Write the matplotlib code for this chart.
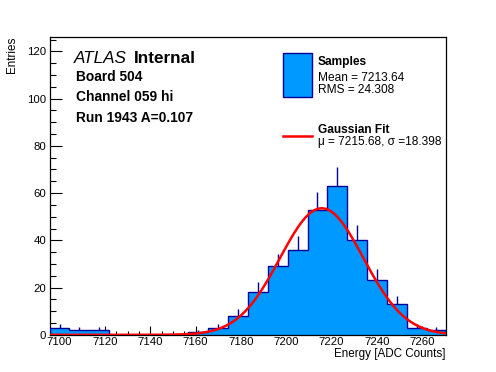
import matplotlib.pyplot as plt
import numpy as np
from matplotlib.ticker import MultipleLocator
from matplotlib.patches import Rectangle
from matplotlib.lines import Line2D

plt.rcParams['font.family'] = ['Liberation Sans', 'DejaVu Sans']

# histogram (20 equal bins)
bin_lo = 7095.6
bin_hi = 7270.7
counts = [3, 2, 2, 0, 0, 0, 0, 1, 3, 8, 18, 29, 36, 53, 63, 40, 23, 13, 3, 2]

# gaussian fit parameters
fit_mu = 7215.68
fit_sigma = 18.398
fit_amp = 53.6

x_title = "Energy [ADC Counts]"
y_title = "Entries"
info_lines = ["Board 504", "Channel 059 hi", "Run 1943 A=0.107"]
legend_hist = ["Samples", "Mean = 7213.64", "RMS = 24.308"]
legend_fit = ["Gaussian Fit", "\u03bc = 7215.68, \u03c3 =18.398"]

fill_col = '#0099ff'
edge_col = '#000099'

W, H = 496, 372
def fx(px):
    return px / W
def fy(py):
    return 1 - py / H

fig = plt.figure(figsize=(4.96, 3.72), dpi=100)
ax = fig.add_axes([0.1, 0.1, 0.8, 0.8])

counts = np.array(counts, dtype=float)
edges = np.linspace(bin_lo, bin_hi, len(counts) + 1)
centers = 0.5 * (edges[:-1] + edges[1:])

ax.stairs(counts, edges, fill=True, color=fill_col, zorder=2)
ax.stairs(counts, edges, fill=False, color=edge_col, lw=1.0, zorder=3)
nz = counts > 0
ax.vlines(centers[nz], counts[nz], counts[nz] + np.sqrt(counts[nz]),
          color=edge_col, lw=1.0, zorder=3)

xf = np.linspace(bin_lo, bin_hi, 100)
yf = fit_amp * np.exp(-0.5 * ((xf - fit_mu) / fit_sigma) ** 2)
ax.plot(xf, yf, color='red', lw=1.8, zorder=4)

ax.set_xlim(bin_lo, bin_hi)
ax.set_ylim(0, 126)

ax.xaxis.set_major_locator(MultipleLocator(20))
ax.xaxis.set_minor_locator(MultipleLocator(5))
ax.yaxis.set_major_locator(MultipleLocator(20))
ax.yaxis.set_minor_locator(MultipleLocator(5))
ax.tick_params(axis='x', which='major', direction='in', length=6.5, width=0.8,
               labelsize=8.2, pad=1.5, top=False)
ax.tick_params(axis='x', which='minor', direction='in', length=3.2, width=0.8, top=False)
ax.tick_params(axis='y', which='major', direction='in', length=8.6, width=0.8,
               labelsize=8.2, pad=2.5, right=False)
ax.tick_params(axis='y', which='minor', direction='in', length=4.3, width=0.8, right=False)
for s in ax.spines.values():
    s.set_linewidth(0.9)

fig.text(fx(446), fy(357), x_title, ha='right', va='baseline', fontsize=8.4)
fig.text(fx(12.5), fy(37), y_title, ha='center', va='top', rotation=90, fontsize=8.4)

# ATLAS label
fig.text(fx(74), fy(63), "ATLAS", style='italic', fontsize=12.3, va='baseline')
fig.text(fx(134), fy(63), "Internal", weight='bold', fontsize=12.3, va='baseline')
for i, line in enumerate(info_lines):
    fig.text(fx(75.5), fy(80.7 + 20.5 * i), line, weight='bold', fontsize=9.9,
             va='baseline')

# legend
fig.add_artist(Rectangle((fx(283.3), fy(96.7)), fx(311.7) - fx(283.3),
                         fy(53.3) - fy(96.7), transform=fig.transFigure,
                         facecolor=fill_col, edgecolor=edge_col, lw=1.0))
fig.add_artist(Line2D([fx(283), fx(312)], [fy(136), fy(136)],
                      transform=fig.transFigure, color='red', lw=1.8))
fig.text(fx(317.7), fy(65), legend_hist[0], weight='bold', fontsize=8.6, va='baseline')
fig.text(fx(317.7), fy(80.7), legend_hist[1], fontsize=8.6, va='baseline')
fig.text(fx(317.7), fy(93.3), legend_hist[2], fontsize=8.6, va='baseline')
fig.text(fx(317.7), fy(133.3), legend_fit[0], weight='bold', fontsize=8.6, va='baseline')
fig.text(fx(317.7), fy(144.5), legend_fit[1], fontsize=8.6, va='baseline')

fig.savefig('out.png', dpi=100)
